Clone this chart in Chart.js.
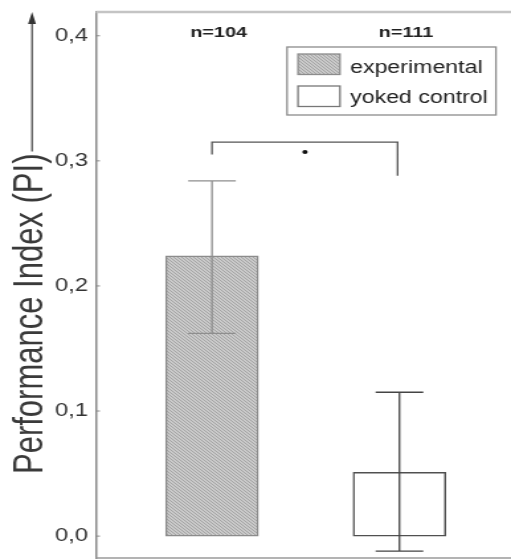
<!DOCTYPE html>
<html>
<head>
<meta charset="utf-8">
<script src="https://cdn.jsdelivr.net/npm/chart.js@4.4.1/dist/chart.umd.min.js"></script>
<style>
  body { margin: 0; background: #fff; }
</style>
</head>
<body>
<!-- drawn narrow and stretched, the original figure is wider than tall in its type -->
<canvas id="chart" width="386" height="560" style="display:block;width:511px;height:560px"></canvas>
<script>
// values
var categories = ['experimental', 'yoked control'];
var xPos = [1, 2];
var meanPI = [0.224, 0.051];
var errLow = [0.162, -0.012];
var errHigh = [0.284, 0.115];
var nCounts = [104, 111];
var yTicks = [0, 0.1, 0.2, 0.3, 0.4];
// significance bracket: top, left leg end, right leg end
var bracketY = [0.315, 0.305, 0.288];
var bracketX = [1, 1.99];
var starPos = [1.496, 0.307];

var FONT = '"Liberation Sans", Arial, sans-serif';

var canvas = document.getElementById('chart');
var ctx = canvas.getContext('2d');

function makeHatch() {
  var c = document.createElement('canvas');
  c.width = 3; c.height = 3;
  var g = c.getContext('2d');
  g.fillStyle = '#cacaca';
  g.fillRect(0, 0, 3, 3);
  g.fillStyle = '#a4a4a4';
  for (var i = 0; i < 3; i++) g.fillRect(i, i, 1, 1);
  return ctx.createPattern(c, 'repeat');
}
var hatch = makeHatch();

var fills = [hatch, '#ffffff'];
var borders = ['#8c8c8c', '#505050'];
var errColors = ['#8e8e8e', '#444444'];

var datasets = categories.map(function(label, i) {
  return {
    label: label,
    data: [{ x: xPos[i], y: meanPI[i] }],
    backgroundColor: fills[i],
    borderColor: borders[i],
    borderWidth: 1.5,
    borderSkipped: false,
    barThickness: 70,
    grouped: false
  };
});

var decor = {
  id: 'decor',
  beforeDatasetsDraw: function(chart) {
    var c = chart.ctx, ca = chart.chartArea, ys = chart.scales.y;
    c.save();
    // frame top and bottom
    c.strokeStyle = '#c4c4c4'; c.lineWidth = 2.5;
    c.beginPath(); c.moveTo(ca.left, ca.top); c.lineTo(chart.width, ca.top); c.stroke();
    c.strokeStyle = '#9a9a9a'; c.lineWidth = 1.5;
    c.beginPath(); c.moveTo(ca.left, ca.bottom); c.lineTo(chart.width, ca.bottom); c.stroke();
    // inward ticks
    c.strokeStyle = '#8a8a8a'; c.lineWidth = 1;
    yTicks.forEach(function(v) {
      var y = ys.getPixelForValue(v);
      c.beginPath(); c.moveTo(ca.left, y); c.lineTo(ca.left + 3, y); c.stroke();
    });
    c.restore();
  },
  afterDatasetsDraw: function(chart) {
    var c = chart.ctx, ca = chart.chartArea;
    var xs = chart.scales.x, ys = chart.scales.y;
    c.save();

    // error bars
    xPos.forEach(function(xv, i) {
      var x = xs.getPixelForValue(xv);
      var lo = ys.getPixelForValue(errLow[i]), hi = ys.getPixelForValue(errHigh[i]);
      c.strokeStyle = errColors[i]; c.lineWidth = 1.3;
      c.beginPath();
      c.moveTo(x, lo); c.lineTo(x, hi);
      c.moveTo(x - 18, lo); c.lineTo(x + 18, lo);
      c.moveTo(x - 18, hi); c.lineTo(x + 18, hi);
      c.stroke();
    });

    // bracket + star
    var bx1 = xs.getPixelForValue(bracketX[0]), bx2 = xs.getPixelForValue(bracketX[1]);
    c.strokeStyle = '#555'; c.lineWidth = 1.3;
    c.beginPath();
    c.moveTo(bx1, ys.getPixelForValue(bracketY[1]));
    c.lineTo(bx1, ys.getPixelForValue(bracketY[0]));
    c.lineTo(bx2, ys.getPixelForValue(bracketY[0]));
    c.lineTo(bx2, ys.getPixelForValue(bracketY[2]));
    c.stroke();
    c.fillStyle = '#111';
    c.beginPath();
    c.arc(xs.getPixelForValue(starPos[0]), ys.getPixelForValue(starPos[1]), 2, 0, Math.PI * 2);
    c.fill();

    // sample sizes
    c.font = 'bold 15px ' + FONT; c.fillStyle = '#222';
    c.textAlign = 'center'; c.textBaseline = 'alphabetic';
    xPos.forEach(function(xv, i) {
      c.fillText('n=' + nCounts[i], xs.getPixelForValue(xv) + 5, ca.top + 24.5);
    });

    // legend box
    var lx = ca.right - 168.2, ly = ca.top + 35, lw = 157.8, lh = 68;
    c.strokeStyle = '#8c8c8c'; c.lineWidth = 1.3;
    c.strokeRect(lx, ly, lw, lh);
    var rowTop = [7, 39], rowBase = [26, 56];
    c.font = '17.5px ' + FONT; c.textAlign = 'left';
    categories.forEach(function(label, i) {
      c.fillStyle = fills[i];
      c.fillRect(lx + 8.3, ly + rowTop[i], 31.7, 20.5);
      c.strokeStyle = i === 0 ? '#8c8c8c' : '#777'; c.lineWidth = 1.3;
      c.strokeRect(lx + 8.3, ly + rowTop[i], 31.7, 20.5);
      c.fillStyle = '#222';
      c.fillText(label, lx + 47.6, ly + rowBase[i]);
    });

    // y axis title with arrow
    var title = 'Performance Index (PI)';
    c.font = '31px ' + FONT; c.fillStyle = '#3a3a3a';
    var tw = c.measureText(title).width;
    var ty = ca.bottom - 84;
    c.save();
    c.translate(31.7, ty);
    c.rotate(-Math.PI / 2);
    c.textAlign = 'left'; c.textBaseline = 'alphabetic';
    c.fillText(title, 0, 0);
    c.restore();
    var ax = 24.2;
    c.strokeStyle = '#444'; c.lineWidth = 1.2;
    c.beginPath(); c.moveTo(ax, ty - tw - 2); c.lineTo(ax, ca.top + 8); c.stroke();
    c.fillStyle = '#333';
    c.beginPath();
    c.moveTo(ax, ca.top); c.lineTo(ax - 3, ca.top + 12); c.lineTo(ax + 3, ca.top + 12);
    c.closePath(); c.fill();

    c.restore();
  }
};

new Chart(canvas, {
  type: 'bar',
  data: { datasets: datasets },
  options: {
    responsive: false,
    devicePixelRatio: 1,
    animation: false,
    layout: { padding: { top: 12, bottom: 2, left: 0, right: 1 } },
    datasets: { bar: { grouped: false } },
    plugins: { legend: { display: false }, tooltip: { enabled: false } },
    scales: {
      x: { type: 'linear', display: false, offset: false, min: 0.381, max: 2.588 },
      y: {
        min: -0.0175,
        max: 0.419,
        afterFit: function(s) { s.width = 72.5; s.paddingTop = 0; s.paddingBottom = 0; },
        afterBuildTicks: function(s) { s.ticks = yTicks.map(function(v) { return { value: v }; }); },
        grid: { display: false, drawTicks: false },
        border: { display: true, color: '#8a8a8a', width: 1.5 },
        ticks: {
          padding: 6,
          color: '#333',
          font: { family: FONT, size: 18 },
          callback: function(v) { return v.toFixed(1).replace('.', ','); }
        }
      }
    }
  },
  plugins: [decor]
});
</script>
</body>
</html>
